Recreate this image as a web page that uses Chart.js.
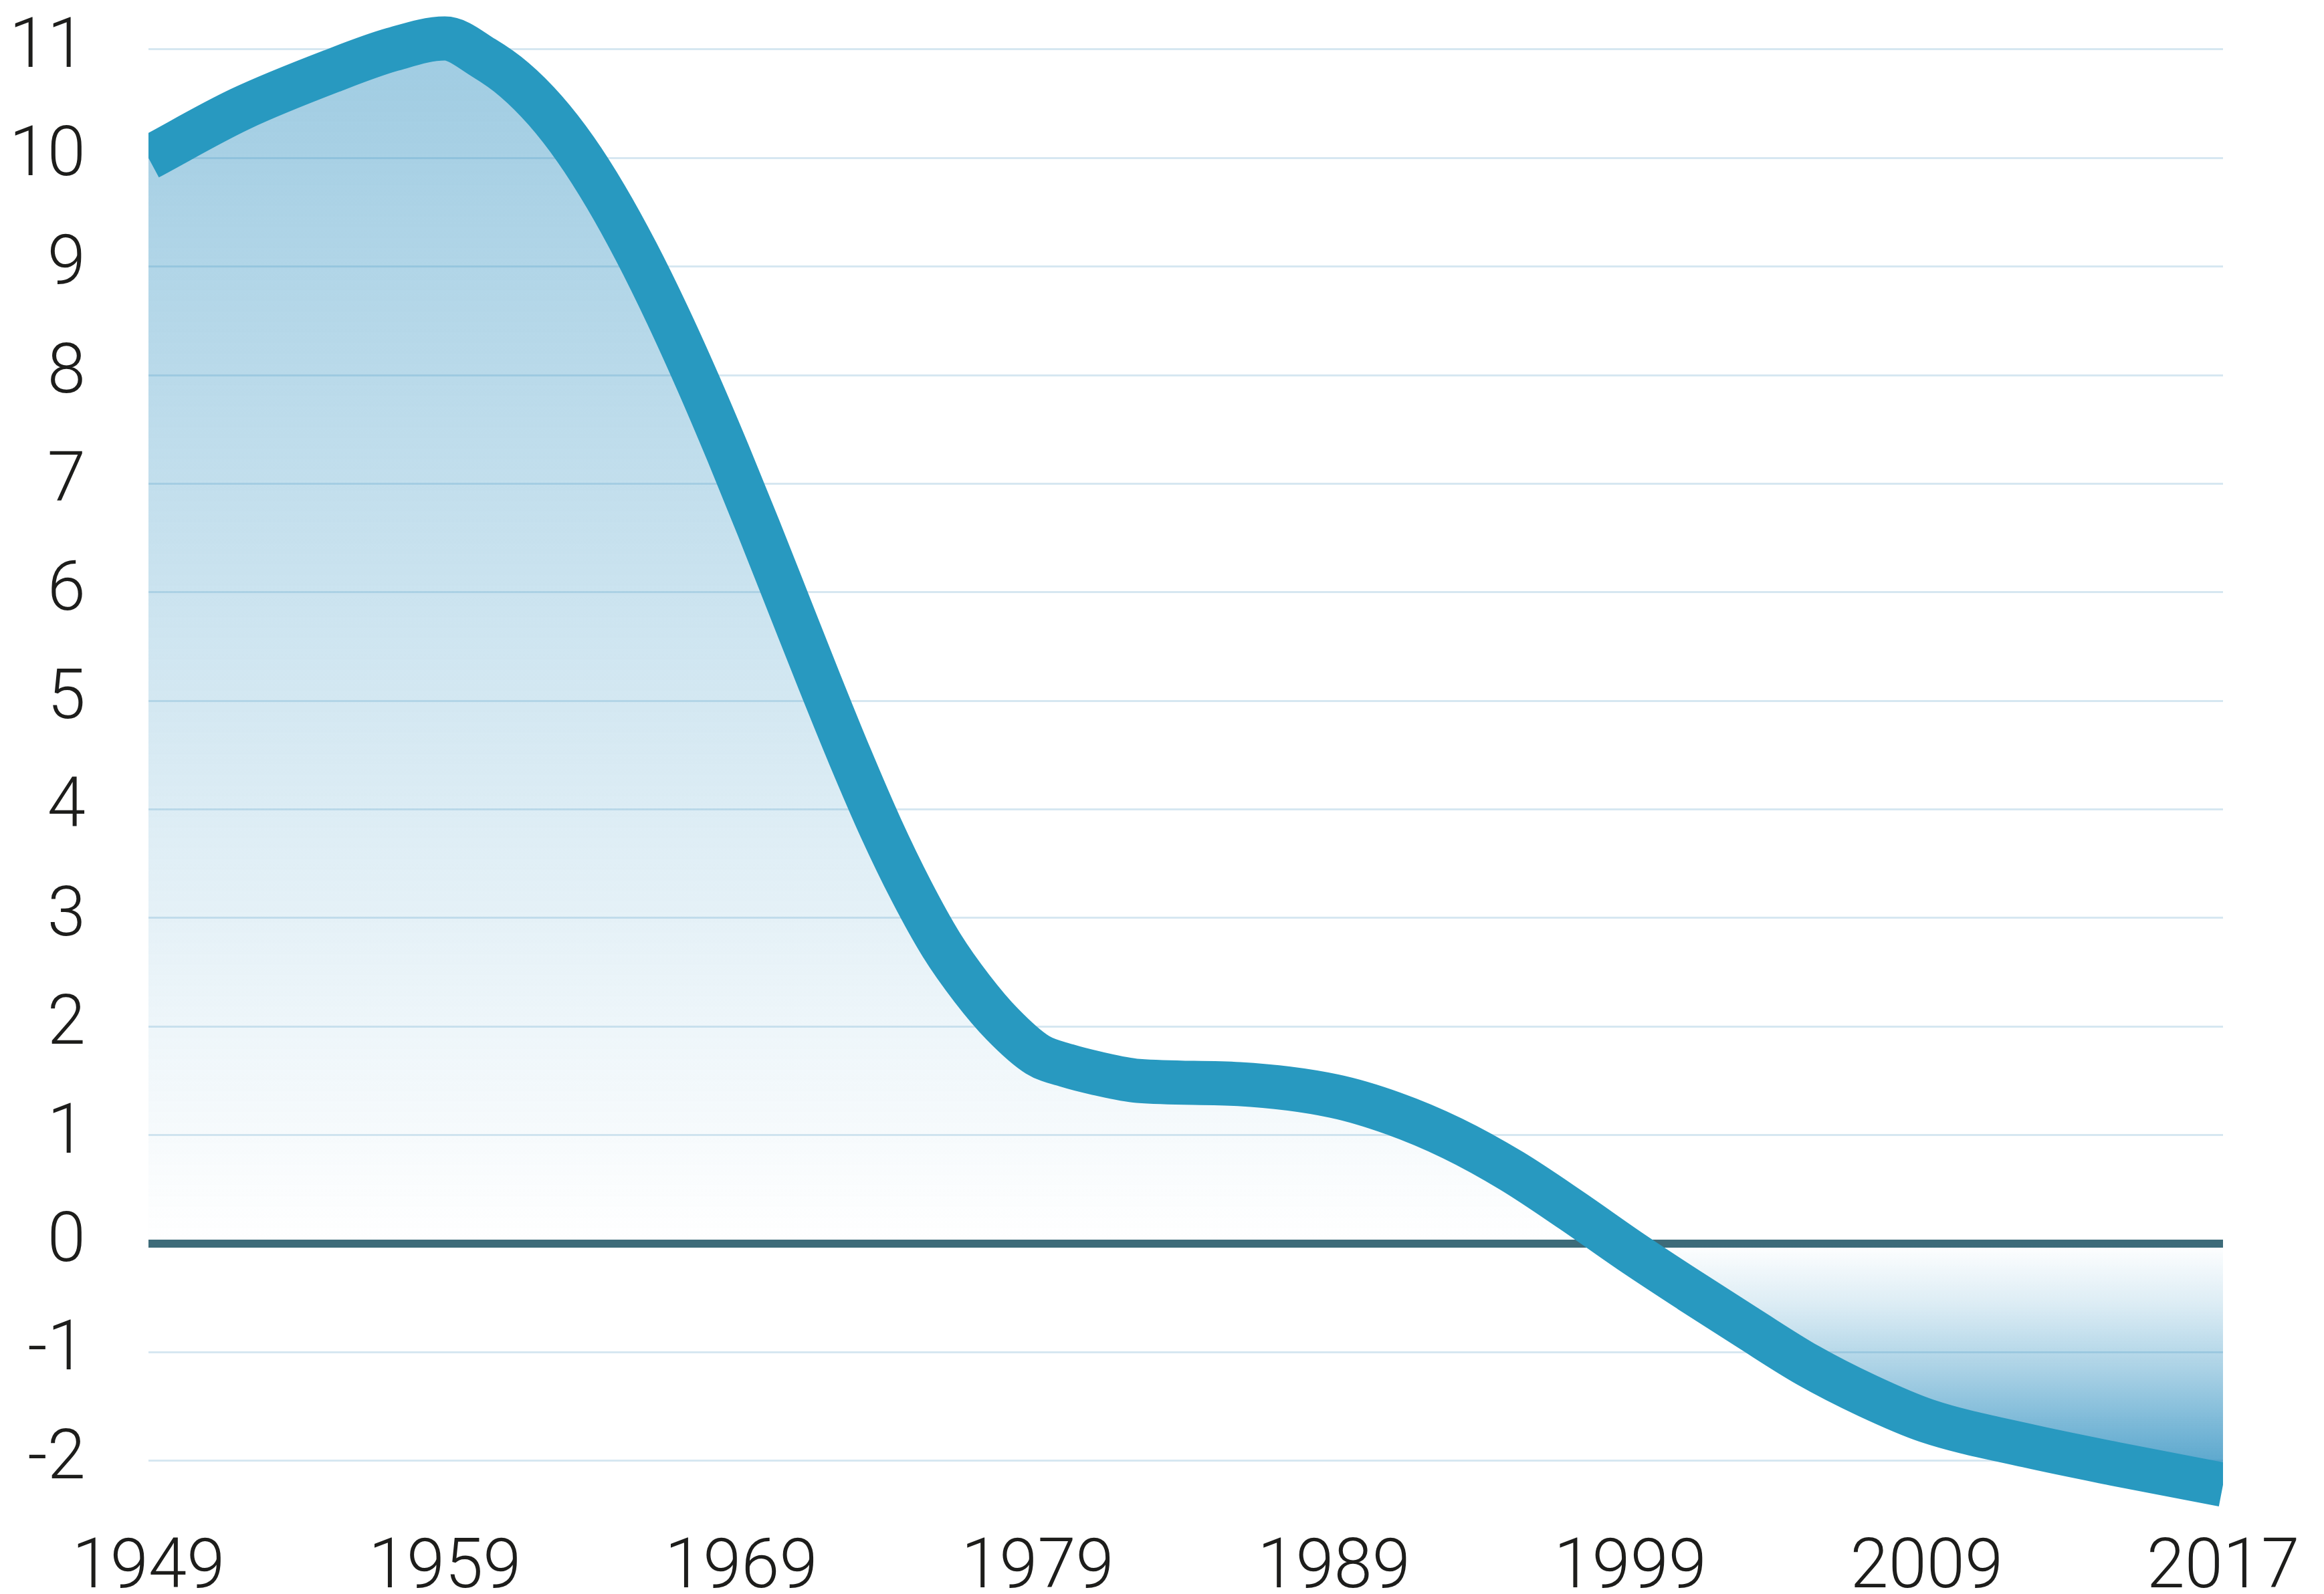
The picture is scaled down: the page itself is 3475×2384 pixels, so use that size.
<!DOCTYPE html>
<html>
<head>
<meta charset="utf-8">
<script src="https://cdn.jsdelivr.net/npm/chart.js@4.4.1/dist/chart.umd.min.js"></script>
<style>
  html, body { margin: 0; padding: 0; background: #ffffff; }
  #wrap { width: 3475px; height: 2384px; position: relative; }
</style>
</head>
<body>
<div id="wrap"><canvas id="myChart"></canvas></div>
<script>
// x axis: eight evenly spaced year labels, data positions are in label steps
const yearLabels = ['1949', '1959', '1969', '1979', '1989', '1999', '2009', '2017'];
const positions = [0, 0.309, 0.618, 0.824, 1.0, 1.132, 1.235, 1.338, 1.441, 1.544, 1.647, 1.750, 1.853, 1.956,
  2.059, 2.162, 2.265, 2.368, 2.471, 2.574, 2.676, 2.779, 2.882, 3.0, 3.1, 3.2, 3.34, 3.68,
  4.0, 4.2, 4.4, 4.6, 4.8, 5.0, 5.2, 5.4, 5.6, 5.8, 6.0, 6.34, 6.64, 7.0];
const values = [10.0, 10.45, 10.8, 11.0, 11.1, 10.92, 10.72, 10.44, 10.08, 9.64, 9.13, 8.56, 7.94, 7.28,
  6.59, 5.88, 5.17, 4.48, 3.83, 3.25, 2.75, 2.35, 2.02, 1.74, 1.64, 1.57, 1.50, 1.47,
  1.36, 1.20, 0.97, 0.67, 0.31, -0.07, -0.43, -0.78, -1.12, -1.40, -1.63, -1.86, -2.03, -2.22];
const yTicks = [-2, -1, 0, 1, 2, 3, 4, 5, 6, 7, 8, 9, 10, 11];

const ctx = document.getElementById('myChart');

const tickFont = { family: 'Roboto', size: 103, weight: 300 };

// blue fading to nothing at zero, both above and below
function fillGradient(context) {
  const chart = context.chart;
  const area = chart.chartArea;
  if (!area) return 'rgba(0,0,0,0)';
  const y = chart.scales.y;
  const g = chart.ctx.createLinearGradient(0, area.top, 0, area.bottom);
  const stops = [[11.35, 0.46], [0, 0], [-0.55, 0.16], [-1.17, 0.40], [-1.79, 0.665], [-2.45, 0.92]];
  stops.forEach(([v, a]) => {
    let t = (y.getPixelForValue(v) - area.top) / (area.bottom - area.top);
    t = Math.min(1, Math.max(0, t));
    g.addColorStop(t, 'rgba(40,140,190,' + a + ')');
  });
  return g;
}

new Chart(ctx, {
  type: 'line',
  data: {
    datasets: [{
      data: positions.map((p, i) => ({ x: p, y: values[i] })),
      borderColor: '#2899c0',
      borderWidth: 66,
      borderCapStyle: 'butt',
      borderJoinStyle: 'round',
      backgroundColor: fillGradient,
      fill: { target: { value: 0 } },
      cubicInterpolationMode: 'monotone',
      pointRadius: 0,
      clip: { left: 0, right: 0, top: false, bottom: 0 }
    }]
  },
  options: {
    responsive: true,
    maintainAspectRatio: false,
    animation: false,
    layout: { padding: { top: 17, right: 151, left: 0, bottom: 0 } },
    plugins: {
      legend: { display: false },
      tooltip: { enabled: false }
    },
    scales: {
      x: {
        type: 'linear',
        min: 0,
        max: 7,
        afterBuildTicks: (scale) => { scale.ticks = yearLabels.map((_, i) => ({ value: i })); },
        afterFit: (scale) => {
          scale.height = 126;
          scale.paddingLeft = 0;
          scale.paddingRight = 0;
        },
        grid: { display: false },
        border: { display: false },
        ticks: {
          font: tickFont,
          color: '#1d1d1b',
          padding: 20,
          maxRotation: 0,
          autoSkip: false,
          callback: (v) => yearLabels[v]
        }
      },
      y: {
        min: -2.45,
        max: 11.35,
        afterBuildTicks: (scale) => { scale.ticks = yTicks.map(v => ({ value: v })); },
        afterFit: (scale) => {
          scale.width = 222;
          scale.paddingTop = 0;
          scale.paddingBottom = 0;
        },
        border: { display: false },
        grid: {
          drawTicks: false,
          color: (c) => c.tick && c.tick.value === 0 ? '#3d6b79' : '#d6e7f1',
          lineWidth: (c) => c.tick && c.tick.value === 0 ? 12 : 3
        },
        ticks: {
          font: tickFont,
          color: '#1d1d1b',
          padding: 94,
          callback: (v) => String(v)
        }
      }
    }
  }
});
</script>
</body>
</html>
